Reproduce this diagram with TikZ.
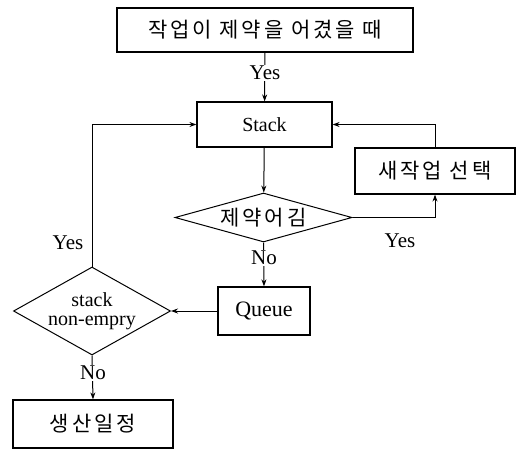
\documentclass[tikz,border=0pt]{standalone}
\usepackage{fontspec}
\setmainfont{Liberation Serif}
\newfontfamily\kor[LetterSpace=14]{Noto Sans CJK KR}
\usetikzlibrary{shapes.geometric,arrows.meta}
\begin{document}
\begin{tikzpicture}[x=1pt,y=-1pt,
  box/.style={draw, rectangle, line width=1.2pt, inner sep=0pt, font=\kor\fontsize{21}{24}\selectfont},
  dia/.style={draw, diamond, line width=1pt, inner sep=0pt},
  arr/.style={-{Stealth[length=7pt,width=5pt]}, line width=1pt},
  lbl/.style={font=\fontsize{21}{23}\selectfont, fill=white, inner sep=1pt}]
\useasboundingbox (0,0) rectangle (523,451);
\node[box, minimum width=296pt, minimum height=44pt] (top) at (265,30) {작업이 제약을 어겼을 때};
\node[box, minimum width=135pt, minimum height=45pt, font=\fontsize{20}{22}\selectfont] (stack) at (264.5,124.5) {Stack};
\node[box, minimum width=160pt, minimum height=46pt] (new) at (435,171) {새작업 선택};
\node[dia, aspect=3.6, minimum width=177pt, minimum height=49pt, font=\kor\fontsize{21}{24}\selectfont] (d1) at (263.5,217.5) {제약어김};
\node[box, minimum width=92pt, minimum height=48pt, font=\fontsize{22}{24}\selectfont] (queue) at (264,311) {Queue};
\node[dia, aspect=1.8, minimum width=157pt, minimum height=88pt, align=center, font=\fontsize{20}{19}\selectfont] (d2) at (92,311) {stack\\non-empry};
\node[box, minimum width=160pt, minimum height=48pt] (prod) at (93,424) {생산일정};

\draw[arr] (top) -- (stack);
\draw[arr] (stack) -- (d1);
\draw[arr] (d1.east) -| (new.south);
\draw[arr] (new.north) |- (stack.east);
\draw[arr] (d1.south) -- (queue.north);
\draw[arr] (queue.west) -- (d2.east);
\draw[arr] (d2.north) |- (stack.west);
\draw[arr] (d2.south) -- (prod.north);

\node[lbl] (y1) at (265,73) {Yes};
\node[lbl] (y2) at (400,241) {Yes};
\node[lbl] (y3) at (68,243) {Yes};
\node[lbl] (n1) at (264,258) {No};
\node[lbl] (n2) at (93,373) {No};
\end{tikzpicture}
\end{document}
